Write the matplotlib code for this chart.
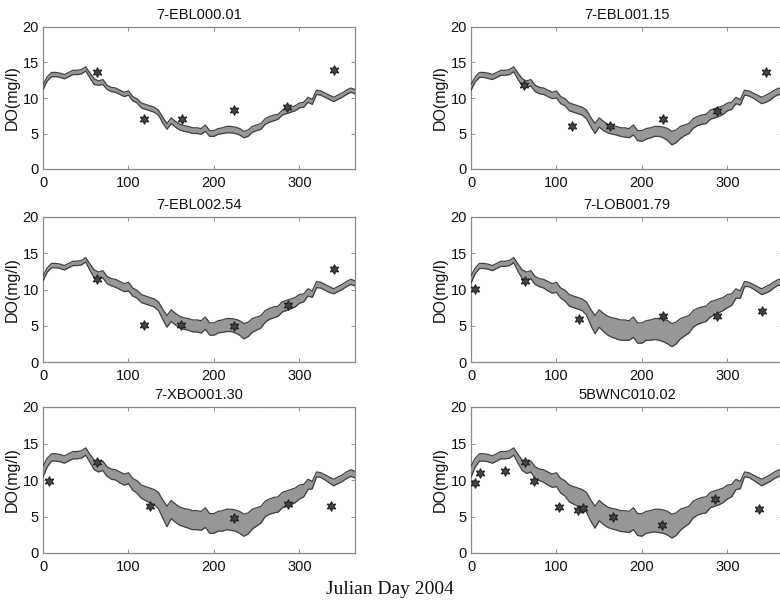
import numpy as np
import matplotlib
matplotlib.use("Agg")
import matplotlib.pyplot as plt

# ---------------------------------------------------------------- data
# Model output sampled every 5 Julian days (day 0 .. 365)
days = np.arange(0, 366, 5)

# upper edge of the simulated DO envelope (mg/l), common to all stations
do_upper = [
    11.9, 13.0, 13.6, 13.6, 13.5, 13.3, 13.6, 13.9, 13.9, 14.0,
    14.4, 13.5, 12.7, 12.4, 12.6, 11.8, 11.5, 11.4, 11.1, 10.8,
    11.0, 10.2, 9.9, 9.3, 9.1, 8.9, 8.7, 8.3, 7.3, 6.4,
    7.2, 6.7, 6.3, 6.1, 6.0, 5.8, 5.8, 5.7, 6.2, 5.4,
    5.4, 5.7, 5.8, 6.0, 6.0, 5.9, 5.7, 5.3, 5.5, 6.0,
    6.2, 6.4, 7.1, 7.4, 7.6, 7.7, 8.3, 8.5, 8.7, 8.9,
    9.3, 9.4, 10.1, 9.8, 11.1, 11.0, 10.7, 10.4, 10.1, 10.4,
    10.7, 11.1, 11.4, 11.2,
]

# envelope thickness (mg/l) at each station
width_ebl000 = [
    0.7, 0.6, 0.6, 0.6, 0.6, 0.6, 0.6, 0.6, 0.6, 0.6,
    0.6, 0.7, 0.8, 0.6, 0.7, 0.6, 0.6, 0.6, 0.6, 0.6,
    0.6, 0.6, 0.6, 0.7, 0.7, 0.7, 0.7, 0.7, 0.8, 0.8,
    0.8, 0.8, 0.8, 0.8, 0.8, 0.8, 0.8, 0.8, 0.9, 0.8,
    0.8, 0.8, 0.8, 0.9, 0.9, 0.9, 0.9, 0.9, 0.9, 0.8,
    0.8, 0.8, 0.8, 0.8, 0.8, 0.7, 0.7, 0.7, 0.7, 0.7,
    0.7, 0.7, 0.7, 0.7, 0.6, 0.6, 0.6, 0.6, 0.6, 0.6,
    0.6, 0.6, 0.6, 0.6,
]
width_ebl001 = [
    0.8, 0.7, 0.7, 0.7, 0.75, 0.7, 0.7, 0.7, 0.7, 0.7,
    0.7, 0.9, 1.0, 0.9, 0.9, 0.9, 0.9, 0.9, 0.9, 0.9,
    1.0, 1.0, 1.0, 1.1, 1.1, 1.1, 1.1, 1.2, 1.3, 1.4,
    1.3, 1.3, 1.2, 1.2, 1.2, 1.2, 1.3, 1.3, 1.4, 1.4,
    1.5, 1.5, 1.4, 1.4, 1.4, 1.5, 1.7, 1.9, 1.8, 1.7,
    1.5, 1.4, 1.35, 1.3, 1.3, 1.3, 1.3, 1.3, 1.3, 1.2,
    1.1, 1.0, 0.9, 0.8, 0.7, 0.7, 0.7, 0.8, 0.9, 1.0,
    1.0, 0.9, 0.9, 0.9,
]
width_ebl002 = [
    0.7, 0.6, 0.6, 0.6, 0.6, 0.6, 0.6, 0.6, 0.6, 0.6,
    0.6, 0.9, 1.1, 1.0, 1.0, 1.0, 1.0, 1.1, 1.1, 1.1,
    1.2, 1.1, 1.1, 1.1, 1.1, 1.1, 1.1, 1.2, 1.4, 1.6,
    1.6, 1.6, 1.6, 1.6, 1.6, 1.65, 1.65, 1.7, 1.7, 1.7,
    1.7, 1.7, 1.7, 1.8, 1.8, 1.9, 2.0, 2.1, 2.0, 1.9,
    1.8, 1.7, 1.6, 1.5, 1.5, 1.4, 1.4, 1.4, 1.35, 1.3,
    1.2, 1.1, 1.0, 0.9, 0.85, 0.8, 0.8, 0.8, 0.7, 0.7,
    0.7, 0.7, 0.7, 0.7,
]
width_lob001 = [
    1.0, 0.8, 0.7, 0.7, 0.7, 0.7, 0.7, 0.7, 0.7, 0.7,
    0.7, 1.0, 1.2, 1.2, 1.1, 1.1, 1.1, 1.2, 1.3, 1.3,
    1.4, 1.4, 1.5, 1.6, 1.6, 1.6, 1.6, 1.8, 2.2, 2.5,
    2.4, 2.5, 2.6, 2.7, 2.8, 2.8, 2.8, 2.7, 2.8, 2.8,
    2.8, 2.7, 2.8, 2.9, 3.0, 3.1, 3.2, 3.2, 3.0, 2.8,
    2.6, 2.4, 2.3, 2.2, 2.2, 2.1, 2.1, 2.0, 1.9, 1.8,
    1.8, 1.6, 1.3, 1.0, 0.7, 0.6, 0.6, 0.7, 0.8, 0.9,
    0.9, 0.8, 0.8, 0.8,
]
width_xbo001 = [
    1.45, 1.2, 1.0, 1.0, 1.0, 1.0, 1.0, 1.0, 1.0, 1.0,
    1.0, 1.1, 1.3, 1.3, 1.3, 1.3, 1.4, 1.4, 1.5, 1.5,
    1.5, 1.6, 1.7, 1.8, 1.9, 2.0, 2.1, 2.2, 2.5, 2.8,
    2.5, 2.5, 2.5, 2.5, 2.6, 2.6, 2.6, 2.6, 2.7, 2.7,
    2.7, 2.7, 2.8, 2.8, 2.9, 2.9, 3.0, 3.0, 2.9, 2.7,
    2.5, 2.3, 2.1, 2.1, 2.1, 2.1, 2.1, 2.1, 2.1, 2.0,
    1.9, 1.7, 1.4, 1.0, 0.65, 0.65, 0.7, 0.8, 0.9, 0.9,
    0.9, 0.9, 0.9, 0.9,
]
width_bwnc010 = [
    1.5, 1.2, 1.0, 1.0, 1.0, 1.0, 1.0, 1.0, 1.0, 1.0,
    1.0, 1.2, 1.4, 1.5, 1.5, 1.6, 1.6, 1.7, 1.8, 1.8,
    1.9, 2.0, 2.1, 2.3, 2.4, 2.5, 2.6, 2.7, 2.9, 3.0,
    2.8, 2.8, 2.8, 2.8, 2.85, 2.85, 2.9, 2.9, 3.0, 3.0,
    3.1, 3.0, 3.0, 3.1, 3.2, 3.2, 3.25, 3.25, 3.1, 2.9,
    2.6, 2.4, 2.3, 2.2, 2.2, 2.2, 2.1, 2.1, 2.1, 2.0,
    1.9, 1.7, 1.4, 1.0, 0.65, 0.65, 0.7, 0.8, 0.9, 0.9,
    0.9, 0.9, 0.9, 0.9,
]

# observed DO (mg/l)
obs_day_ebl000 = [63, 118, 163, 223, 286, 341]
obs_do_ebl000 = [13.6, 7.1, 7.1, 8.3, 8.8, 13.9]
obs_day_ebl001 = [62, 118, 163, 225, 288, 345]
obs_do_ebl001 = [11.8, 6.0, 6.0, 7.1, 8.2, 13.6]
obs_day_ebl002 = [63, 118, 162, 223, 287, 341]
obs_do_ebl002 = [11.4, 5.1, 5.1, 4.9, 7.8, 12.8]
obs_day_lob001 = [5, 63, 126, 225, 288, 340]
obs_do_lob001 = [10.1, 11.2, 5.9, 6.35, 6.4, 7.1]
obs_day_xbo001 = [7, 63, 125, 223, 287, 337]
obs_do_xbo001 = [9.9, 12.5, 6.4, 4.8, 6.7, 6.5]
obs_day_bwnc010 = [5, 11, 40, 63, 74, 103, 125, 131, 166, 224, 286, 337]
obs_do_bwnc010 = [9.6, 10.9, 11.3, 12.5, 9.9, 6.3, 5.9, 6.1, 4.9, 3.9, 7.4, 6.0]

stations = ["7-EBL000.01", "7-EBL001.15", "7-EBL002.54",
            "7-LOB001.79", "7-XBO001.30", "5BWNC010.02"]
widths = [width_ebl000, width_ebl001, width_ebl002,
          width_lob001, width_xbo001, width_bwnc010]
obs_days = [obs_day_ebl000, obs_day_ebl001, obs_day_ebl002,
            obs_day_lob001, obs_day_xbo001, obs_day_bwnc010]
obs_vals = [obs_do_ebl000, obs_do_ebl001, obs_do_ebl002,
            obs_do_lob001, obs_do_xbo001, obs_do_bwnc010]

x_ticks = [0, 100, 200, 300]
y_ticks = [0, 5, 10, 15, 20]

# ---------------------------------------------------------------- figure
plt.rcParams["font.family"] = ["Liberation Sans", "DejaVu Sans"]

W, H = 780, 607
fig = plt.figure(figsize=(W / 100, H / 100), dpi=100)

col_left = [43, 471]
ax_w = 312
rows = [(27, 169), (217, 362), (407, 553)]

# six-pointed star marker
hexagram = (6, 1, 0)

for k, name in enumerate(stations):
    r, c = divmod(k, 2)
    top, bot = rows[r]
    ax = fig.add_axes([col_left[c] / W, 1 - bot / H, ax_w / W, (bot - top) / H])

    upper = np.array(do_upper)
    lower = upper - np.array(widths[k])
    ax.fill_between(days, lower, upper, color="#979797", lw=0, zorder=2)
    ax.plot(days, upper, color="#404040", lw=0.9, zorder=3)
    ax.plot(days, lower, color="#404040", lw=0.9, zorder=3)

    ax.plot(obs_days[k], obs_vals[k], ls="none", marker=hexagram, ms=7,
            mfc="#444444", mec="#222222", mew=0.8, zorder=4)

    ax.set_xlim(0, 365)
    ax.set_ylim(0, 20)
    ax.set_xticks(x_ticks)
    ax.set_yticks(y_ticks)
    ax.tick_params(direction="in", length=3, width=0.6, color="#808080",
                   top=True, right=True, labelsize=10.5, pad=3,
                   labelcolor="#111111")
    ax.tick_params(axis="x", pad=5)
    for sp in ax.spines.values():
        sp.set_color("#8a8a8a")
        sp.set_linewidth(0.9)
        sp.set_linestyle((0, (1.5, 0.8)))

    ax.set_title(name, fontsize=10.5, pad=6, color="#111111")
    ax.set_ylabel("DO(mg/l)", fontsize=11.5, color="#111111")
    ax.yaxis.set_label_coords(-0.076, 0.5)

fig.text(0.5, 1 - 590 / H, "Julian Day 2004", ha="center", va="center",
         fontsize=14, family=["Liberation Serif", "DejaVu Serif"],
         color="#111111")

fig.savefig("out.png", dpi=100)
